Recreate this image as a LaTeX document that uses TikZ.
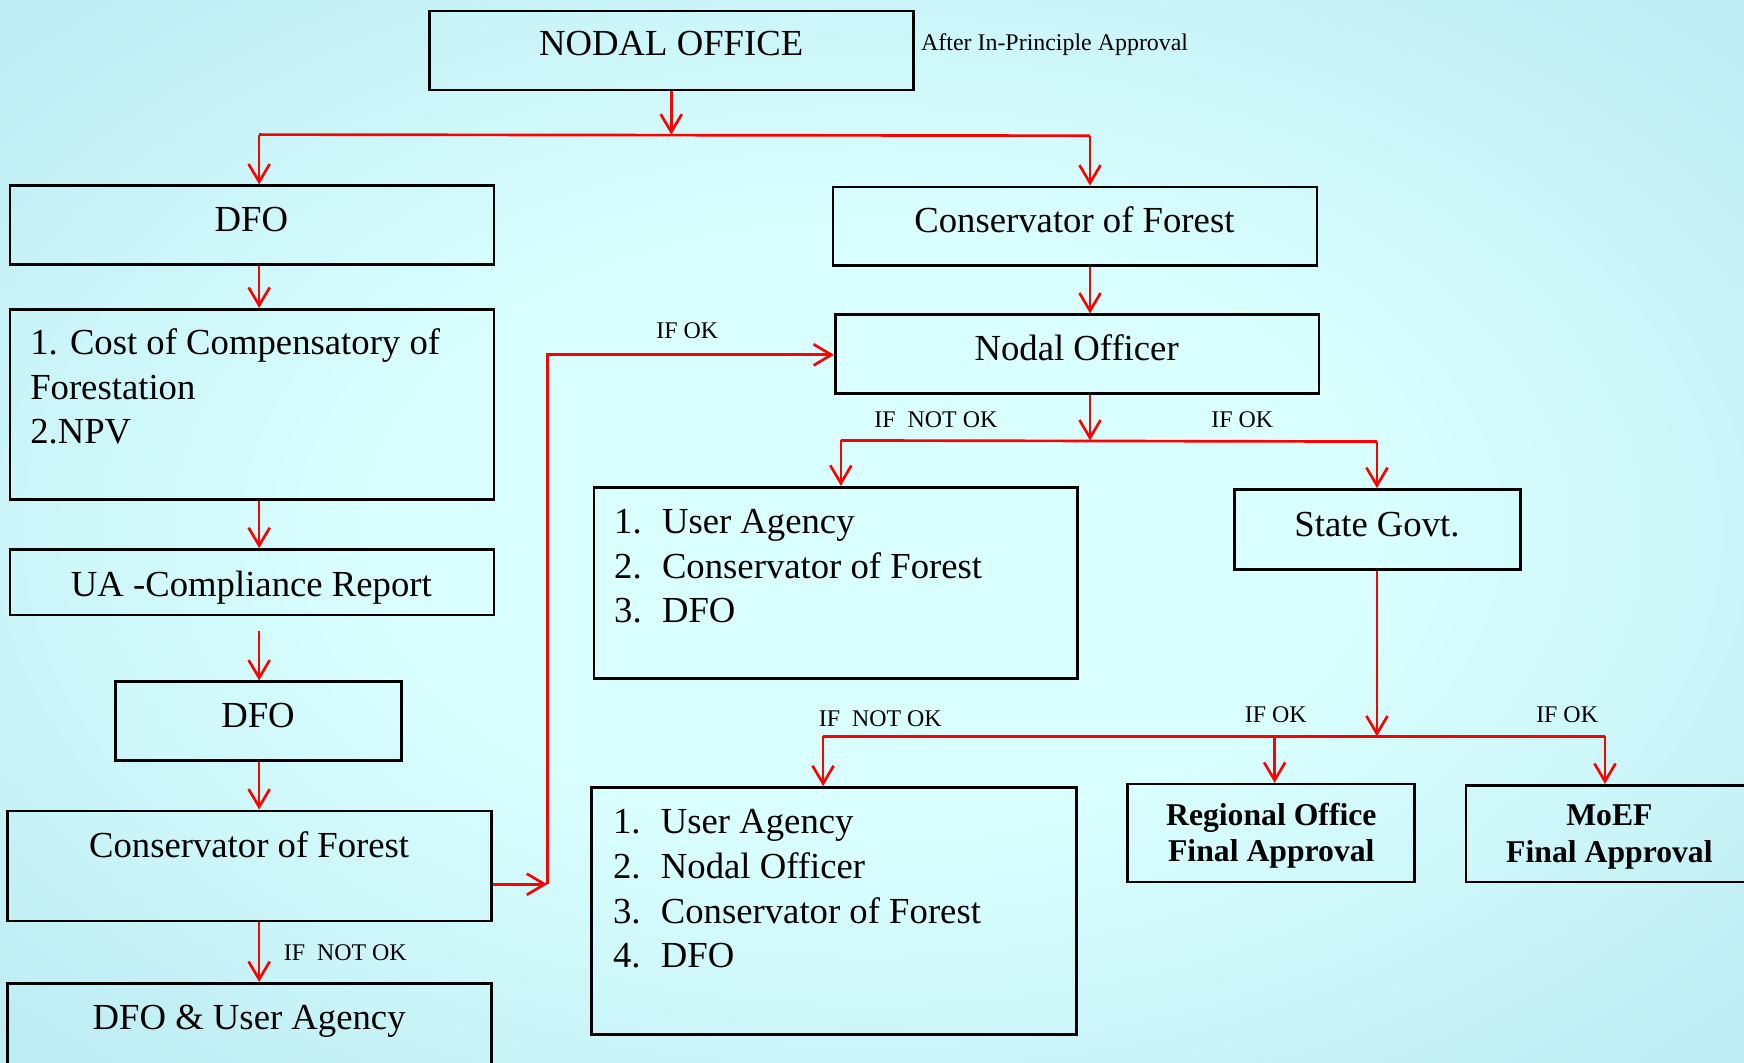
\documentclass[tikz,border=0pt]{standalone}
\usepackage{fontspec}
\setmainfont{Liberation Serif}
\usetikzlibrary{arrows.meta}

\definecolor{bgin}{RGB}{218,255,255}
\definecolor{bgout}{RGB}{168,222,233}
\definecolor{flowred}{RGB}{255,0,0}

\pgfdeclareradialshading{slide}{\pgfpoint{0bp}{0bp}}{color(0bp)=(bgin); color(14bp)=(bgin); color(50bp)=(bgout); color(75bp)=(bgout)}

\tikzset{
  box/.style={draw=black, line width=2.4pt, inner sep=0pt},
  big/.style={inner sep=0pt, anchor=base, font=\fontsize{33}{40}\selectfont},
  small/.style={inner sep=0pt, anchor=base west, font=\fontsize{21.5}{26}\selectfont},
  bold/.style={align=center, font=\bfseries\fontsize{28.5}{33}\selectfont},
  wire/.style={draw=flowred, line width=2.4pt},
  flow/.style={wire, -{Straight Barb[length=16pt,width=19pt]}},
}

\begin{document}
\begin{tikzpicture}[x=1pt,y=-1pt]
	\useasboundingbox (0,0) rectangle (1568,955);
	\clip (0,0) rectangle (1568,955);
	\shade[shading=slide] (0,0) rectangle (1568,955);

	% boxes
	\node[box, minimum width=435pt, minimum height=71pt] (nodal) at (603.5,45.5) {};
	\node[box, minimum width=435pt, minimum height=71pt] (dfoA) at (226.5,202.5) {};
	\node[box, minimum width=435pt, minimum height=71pt] (cofA) at (966.5,203.5) {};
	\node[box, minimum width=435pt, minimum height=171pt] (cost) at (226.5,363.5) {};
	\node[box, minimum width=435pt, minimum height=59pt] (ua) at (226.5,523.5) {};
	\node[box, minimum width=257pt, minimum height=71pt] (dfoB) at (232.5,648.5) {};
	\node[box, minimum width=435pt, minimum height=99pt] (cofB) at (224.5,778.5) {};
	\node[box, minimum width=435pt, minimum height=86pt] (dfoua) at (224.5,927) {};
	\node[box, minimum width=435pt, minimum height=71pt] (nodalo) at (968.5,318.5) {};
	\node[box, minimum width=435pt, minimum height=172pt] (listA) at (751.5,524) {};
	\node[box, minimum width=257pt, minimum height=72pt] (state) at (1238.5,476) {};
	\node[box, minimum width=436pt, minimum height=222pt] (listB) at (750,819) {};
	\node[box, bold, minimum width=258pt, minimum height=88pt] (regional) at (1143,749) {\rule{0pt}{25pt}Regional Office\\Final Approval};
	\node[box, bold, minimum width=272pt, minimum height=87pt] (moef) at (1454,749.5) {\hspace*{-14pt}\rule{0pt}{25pt}MoEF\\\hspace*{-14pt}Final Approval};

	% texts
	\node[big] (t-nodal) at (603.5,50) {NODAL OFFICE};
	\node[small] (t-after) at (828,45) {After In-Principle Approval};
	\node[big] (t-dfoA) at (226,208) {DFO};
	\node[big] (t-cofA) at (966,209) {Conservator of Forest};
	\node[big, anchor=base west] (t-cost1) at (27,319) {1. Cost of Compensatory of};
	\node[big, anchor=base west] (t-cost2) at (27,359) {Forestation};
	\node[big, anchor=base west] (t-cost3) at (27,399) {2.NPV};
	\node[big] (t-ua) at (226,536) {UA -Compliance Report};
	\node[big] (t-dfoB) at (232,654) {DFO};
	\node[big] (t-cofB) at (224,771) {Conservator of Forest};
	\node[big] (t-dfoua) at (224,926) {DFO \& User Agency};
	\node[big] (t-nodalo) at (968,324) {Nodal Officer};
	\node[big] (t-state) at (1238,482) {State Govt.};
	\foreach \t [count=\k] in {User Agency,Conservator of Forest,DFO} {
		\node[big, anchor=base west] (la-n\k) at (552,440+40*\k) {\k.};
		\node[big, anchor=base west] (la-\k) at (595,440+40*\k) {\t};
	}
	\foreach \t [count=\k] in {User Agency,Nodal Officer,Conservator of Forest,DFO} {
		\node[big, anchor=base west] (lb-n\k) at (551,709+40.3*\k) {\k.};
		\node[big, anchor=base west] (lb-\k) at (594,709+40.3*\k) {\t};
	}

	% labels
	\node[small] (ok1) at (590,304) {IF OK};
	\node[small] (nok1) at (786,384) {IF\ \ NOT OK};
	\node[small] (ok2) at (1089,384) {IF OK};
	\node[small] (nok2) at (736,653) {IF\ \ NOT OK};
	\node[small] (ok3) at (1119,650) {IF OK};
	\node[small] (ok4) at (1381,650) {IF OK};
	\node[small] (nok3) at (255,864) {IF\ \ NOT OK};

	% junctions
	\coordinate (j1) at (603.5,121);
	\coordinate (j1L) at (233,121);
	\coordinate (j1R) at (980,122);
	\coordinate (k1) at (492,795);
	\coordinate (k2) at (492,319);
	\coordinate (j2) at (980,396);
	\coordinate (j2L) at (756,396);
	\coordinate (j2R) at (1238,397);
	\coordinate (j3) at (1238,662);
	\coordinate (j3L) at (740,662);
	\coordinate (j3M) at (1146,662);
	\coordinate (j3R) at (1443,662);

	% connectors
	\draw[flow] (nodal) -- (j1);
	\draw[wire] (j1L) -- (j1R);
	\draw[flow] (j1L) -- (dfoA.north -| j1L);
	\draw[flow] (j1R) -- (cofA.north -| j1R);
	\draw[flow] (dfoA.south -| j1L) -- (cost.north -| j1L);
	\draw[flow] (cost.south -| j1L) -- (ua.north -| j1L);
	\draw[flow] (ua.south -| j1L) ++(0,13) -- (dfoB.north -| j1L);
	\draw[flow] (dfoB.south -| j1L) -- (cofB.north -| j1L);
	\draw[flow] (cofB.south -| j1L) -- (dfoua.north -| j1L);
	\draw[flow] (cofB.east |- k1) -- (k1);
	\draw[flow] (k1) -- (k2) -- (nodalo.west |- k2);
	\draw[flow] (cofA.south -| j1R) -- (nodalo.north -| j1R);
	\draw[flow] (nodalo.south -| j2) -- (j2);
	\draw[wire] (j2L) -- (j2R);
	\draw[flow] (j2L) -- (listA.north -| j2L);
	\draw[flow] (j2R) -- (state.north -| j2R);
	\draw[flow] (state.south -| j3) -- (j3);
	\draw[wire] (j3L) -- (j3R);
	\draw[flow] (j3L) -- (listB.north -| j3L);
	\draw[flow] (j3M) -- (regional.north -| j3M);
	\draw[flow] (j3R) -- (moef.north -| j3R);
\end{tikzpicture}
\end{document}
